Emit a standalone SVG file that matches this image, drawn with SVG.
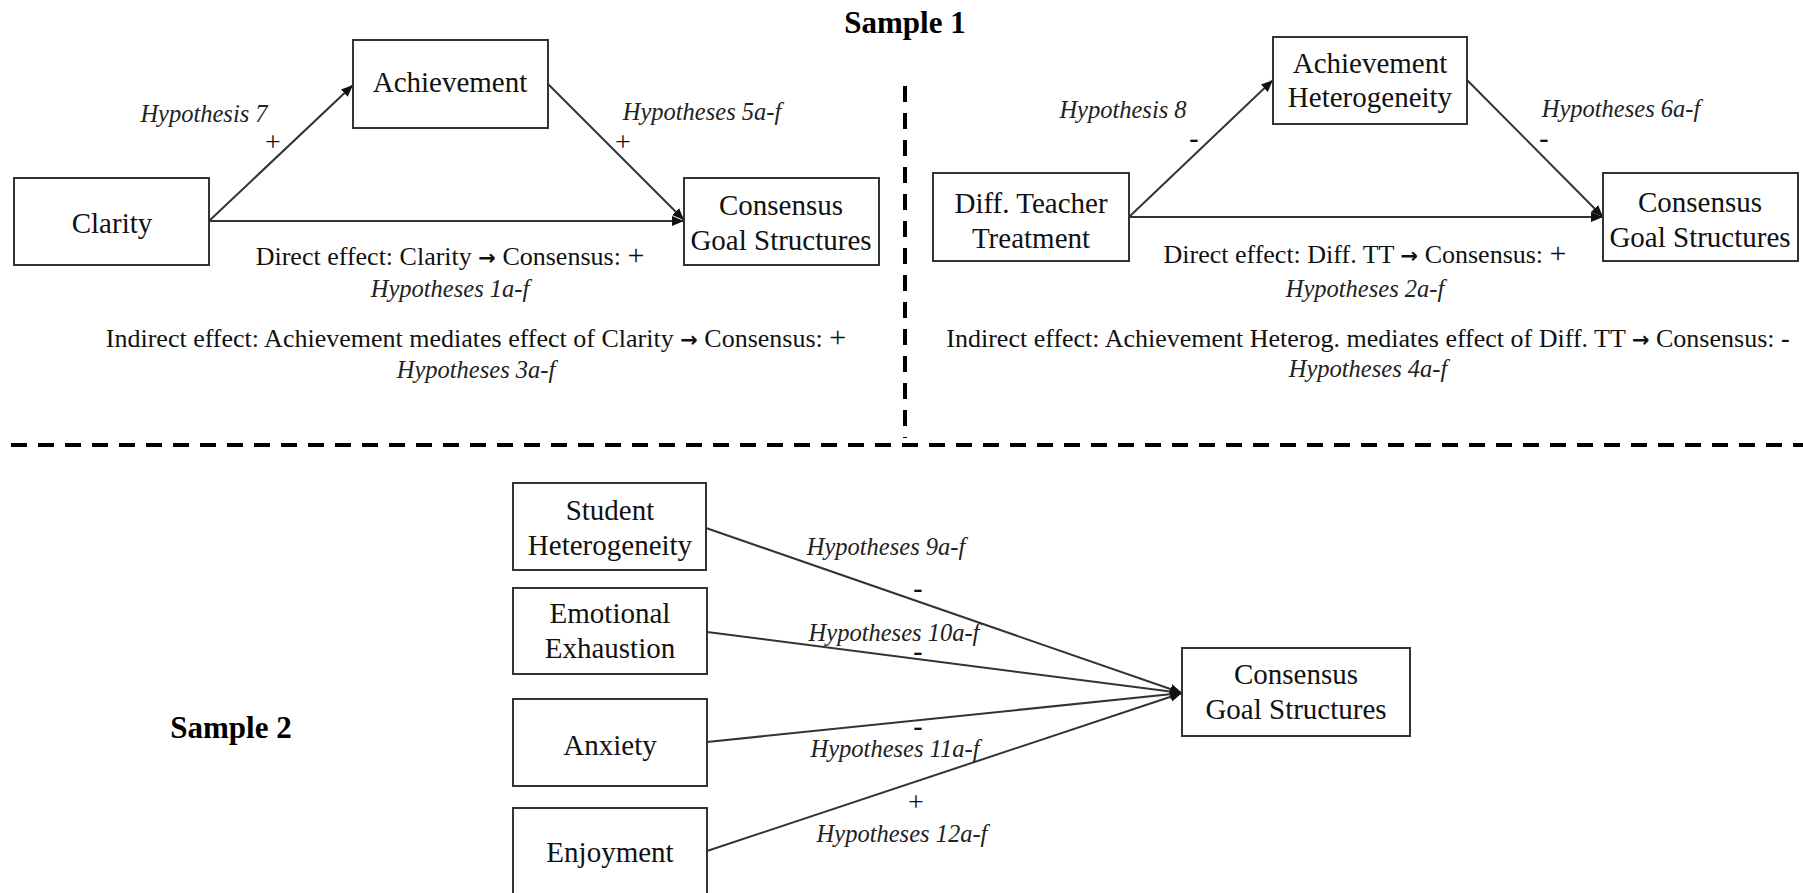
<svg xmlns="http://www.w3.org/2000/svg" width="1803" height="893" viewBox="0 0 1803 893">
<style>
.box{fill:#fff;stroke:#333;stroke-width:2}
.nt{font-family:"Liberation Serif","Times New Roman",serif;font-size:29px;fill:#111;text-anchor:middle}
.hy{font-family:"Liberation Serif","Times New Roman",serif;font-size:24.5px;font-style:italic;fill:#222;text-anchor:middle}
.ef{font-family:"Liberation Serif","Times New Roman",serif;font-size:26px;fill:#111;text-anchor:middle}
.ar{font-family:"DejaVu Sans",sans-serif;font-weight:bold;font-size:21px}
.sg{font-family:"Liberation Serif","Times New Roman",serif;font-size:28px;fill:#111;text-anchor:middle}
.mi{font-family:"Liberation Serif","Times New Roman",serif;font-size:28px;font-weight:bold;fill:#111;text-anchor:middle}
.ti{font-family:"Liberation Serif","Times New Roman",serif;font-size:31px;font-weight:bold;fill:#000;text-anchor:middle}
.cn{stroke:#333;stroke-width:2;fill:none;marker-end:url(#ah)}
.dash{stroke:#000;stroke-width:4;stroke-dasharray:16 11;fill:none}
</style>
<defs>
<marker id="ah" markerUnits="userSpaceOnUse" markerWidth="14" markerHeight="12" refX="12" refY="5" orient="auto">
<path d="M0,0 L12,5 L0,10 z" fill="#111"/>
</marker>
</defs>
<rect width="1803" height="893" fill="#fff"/>

<text class="ti" x="905" y="33">Sample 1</text>
<text class="ti" x="231" y="738">Sample 2</text>

<g id="dividers">
<line class="dash" x1="905" y1="86" x2="905" y2="438"/>
<line class="dash" x1="11" y1="445" x2="1803" y2="445"/>
</g>

<g id="connectors">
<line class="cn" x1="209" y1="221" x2="353" y2="85"/>
<line class="cn" x1="548" y1="84" x2="684" y2="220"/>
<line class="cn" x1="209" y1="221" x2="684" y2="221"/>
<line class="cn" x1="1129" y1="217" x2="1273" y2="80"/>
<line class="cn" x1="1467" y1="80" x2="1603" y2="217"/>
<line class="cn" x1="1129" y1="217" x2="1603" y2="217"/>
<line class="cn" x1="706" y1="528" x2="1182" y2="693"/>
<line class="cn" x1="707" y1="632" x2="1182" y2="693"/>
<line class="cn" x1="707" y1="742" x2="1182" y2="693"/>
<line class="cn" x1="707" y1="851" x2="1182" y2="693"/>
</g>

<g id="clarity"><rect class="box" x="14" y="178" width="195" height="87"/><text class="nt" x="112" y="233">Clarity</text></g>
<g id="achievement"><rect class="box" x="353" y="40" width="195" height="88"/><text class="nt" x="450" y="92">Achievement</text></g>
<g id="consensus1"><rect class="box" x="684" y="178" width="195" height="87"/><text class="nt" x="781" y="215">Consensus</text><text class="nt" x="781" y="250">Goal Structures</text></g>

<g id="diffteacher"><rect class="box" x="933" y="173" width="196" height="88"/><text class="nt" x="1031" y="213">Diff. Teacher</text><text class="nt" x="1031" y="248">Treatment</text></g>
<g id="achhet"><rect class="box" x="1273" y="37" width="194" height="87"/><text class="nt" x="1370" y="73">Achievement</text><text class="nt" x="1370" y="107">Heterogeneity</text></g>
<g id="consensus2"><rect class="box" x="1603" y="173" width="195" height="88"/><text class="nt" x="1700" y="212">Consensus</text><text class="nt" x="1700" y="247">Goal Structures</text></g>

<g id="studenthet"><rect class="box" x="513" y="483" width="193" height="87"/><text class="nt" x="610" y="520">Student</text><text class="nt" x="610" y="555">Heterogeneity</text></g>
<g id="emoexh"><rect class="box" x="513" y="588" width="194" height="86"/><text class="nt" x="610" y="623">Emotional</text><text class="nt" x="610" y="658">Exhaustion</text></g>
<g id="anxiety"><rect class="box" x="513" y="699" width="194" height="87"/><text class="nt" x="610" y="755">Anxiety</text></g>
<g id="enjoyment"><rect class="box" x="513" y="808" width="194" height="90"/><text class="nt" x="610" y="862">Enjoyment</text></g>
<g id="consensus3"><rect class="box" x="1182" y="648" width="228" height="88"/><text class="nt" x="1296" y="684">Consensus</text><text class="nt" x="1296" y="719">Goal Structures</text></g>

<g id="labels">
<text class="hy" x="204" y="122">Hypothesis 7</text>
<text class="sg" x="273" y="151">+</text>
<text class="hy" x="702" y="120">Hypotheses 5a-f</text>
<text class="sg" x="623" y="151">+</text>
<text class="ef" x="450" y="265">Direct effect: Clarity <tspan class="ar">→</tspan> Consensus: <tspan font-size="30">+</tspan></text>
<text class="hy" x="450" y="297">Hypotheses 1a-f</text>
<text class="ef" x="476" y="347">Indirect effect: Achievement mediates effect of Clarity <tspan class="ar">→</tspan> Consensus: <tspan font-size="30">+</tspan></text>
<text class="hy" x="476" y="378">Hypotheses 3a-f</text>

<text class="hy" x="1123" y="118">Hypothesis 8</text>
<text class="mi" x="1194" y="147">-</text>
<text class="hy" x="1621" y="117">Hypotheses 6a-f</text>
<text class="mi" x="1544" y="147">-</text>
<text class="ef" x="1365" y="263">Direct effect: Diff. TT <tspan class="ar">→</tspan> Consensus: <tspan font-size="30">+</tspan></text>
<text class="hy" x="1365" y="297">Hypotheses 2a-f</text>
<text class="ef" x="1368" y="347">Indirect effect: Achievement Heterog. mediates effect of Diff. TT <tspan class="ar">→</tspan> Consensus: <tspan font-weight="bold">-</tspan></text>
<text class="hy" x="1368" y="377">Hypotheses 4a-f</text>

<text class="hy" x="886" y="555">Hypotheses 9a-f</text>
<text class="mi" x="918" y="597">-</text>
<text class="hy" x="894" y="641">Hypotheses 10a-f</text>
<text class="mi" x="918" y="660">-</text>
<text class="mi" x="918" y="735">-</text>
<text class="hy" x="895" y="757">Hypotheses 11a-f</text>
<text class="sg" x="916" y="811">+</text>
<text class="hy" x="902" y="842">Hypotheses 12a-f</text>
</g>
</svg>
